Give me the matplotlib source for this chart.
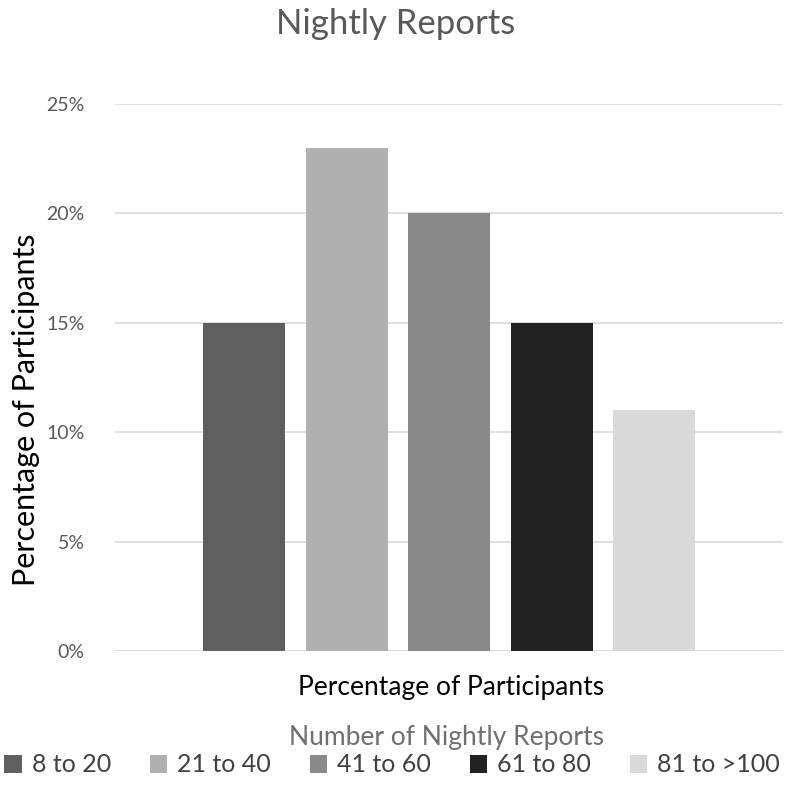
import matplotlib.pyplot as plt
from matplotlib.ticker import PercentFormatter

# data
categories = ["8 to 20", "21 to 40", "41 to 60", "61 to 80", "81 to >100"]
values = [15, 23, 20, 15, 11]
colors = ["#5f5f5f", "#b0b0b0", "#898989", "#222222", "#d9d9d9"]
y_ticks = [0, 5, 10, 15, 20, 25]

plt.rcParams["font.family"] = ["Lato", "DejaVu Sans"]

fig = plt.figure(figsize=(8, 7.87), dpi=100)
ax = fig.add_axes([0.144, 0.1728, 0.835, 0.6951])

for i, (cat, val, col) in enumerate(zip(categories, values, colors)):
    ax.bar(i, val, width=0.8, color=col, label=cat, zorder=3)

ax.set_xlim(-1.26, 5.26)
ax.set_ylim(0, 25)
ax.set_yticks(y_ticks)
ax.yaxis.set_major_formatter(PercentFormatter(decimals=0))
ax.set_xticks([])
ax.grid(axis="y", color="#d9d9d9", linewidth=1.2, zorder=0)
for side in ["top", "right", "left", "bottom"]:
    ax.spines[side].set_visible(False)
ax.tick_params(axis="y", length=0, pad=22, labelsize=14, labelcolor="#595959")

# axis titles placed by hand, like the excel layout
fig.text(0.033, 1 - 410 / 787, "Percentage of Participants", fontsize=22,
         rotation=90, ha="center", va="center")
fig.text(0.564, 1 - 688 / 787, "Percentage of Participants", fontsize=19,
         ha="center", va="center")
fig.text(0.495, 1 - 24 / 787, "Nightly Reports", fontsize=25, color="#595959",
         ha="center", va="center")
fig.text(0.558, 1 - 737 / 787, "Number of Nightly Reports", fontsize=19,
         color="#6f6f6f", ha="center", va="center")

leg = fig.legend(loc="center", bbox_to_anchor=(0.49, 1 - 765 / 787), ncol=5,
                 frameon=False, fontsize=18, handlelength=0.7,
                 handleheight=0.7, handletextpad=0.4, columnspacing=1.55,
                 borderpad=0.1)
for t in leg.get_texts():
    t.set_color("#404040")

fig.savefig("out.png", dpi=100)
